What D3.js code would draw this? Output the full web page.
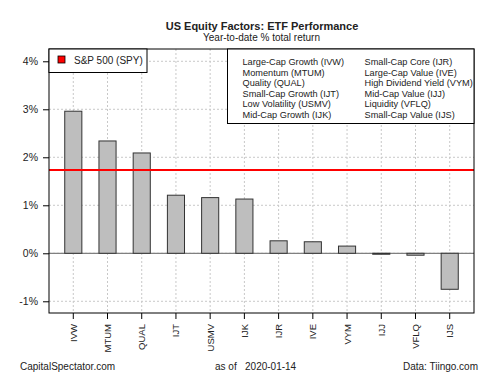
<!DOCTYPE html>
<html><head><meta charset="utf-8">
<script src="https://cdn.jsdelivr.net/npm/d3@7"></script>
<style>body{margin:0;background:#fff}svg{display:block;font-family:"Liberation Sans",Arial,sans-serif}</style>
</head><body><svg id="c" width="500" height="375"></svg>
<script>
const tickers = ["IVW","MTUM","QUAL","IJT","USMV","IJK","IJR","IVE","VYM","IJJ","VFLQ","IJS"];
const returns = [2.96,2.34,2.09,1.21,1.16,1.13,0.26,0.24,0.15,-0.02,-0.04,-0.75];
const spyReturn = 1.735;
const yTicks = [-1,0,1,2,3,4];
const legendLeft = ["Large-Cap Growth (IVW)","Momentum (MTUM)","Quality (QUAL)","Small-Cap Growth (IJT)","Low Volatility (USMV)","Mid-Cap Growth (IJK)"];
const legendRight = ["Small-Cap Core (IJR)","Large-Cap Value (IVE)","High Dividend Yield (VYM)","Mid-Cap Value (IJJ)","Liquidity (VFLQ)","Small-Cap Value (IJS)"];

const svg = d3.select("#c");
const L=49, R=474, T=49, B=313;
const n = tickers.length;
// R barplot style: space=1, width=1
const x = d3.scaleLinear().domain([0.08, 2*n+0.92]).range([L,R]);
const y = d3.scaleLinear().domain([-1.244, 4.256]).range([B,T]);
const fs = 9.5;

// grid
svg.append("g").selectAll("line").data(yTicks).join("line")
  .attr("x1",L).attr("x2",R).attr("y1",d=>y(d)).attr("y2",d=>y(d))
  .attr("stroke","#c8c8c8").attr("stroke-dasharray","2,2").attr("stroke-width",1);
svg.append("g").selectAll("line").data(tickers).join("line")
  .attr("x1",(d,i)=>x(2*i+1.5)).attr("x2",(d,i)=>x(2*i+1.5)).attr("y1",T).attr("y2",B)
  .attr("stroke","#c8c8c8").attr("stroke-dasharray","2,2").attr("stroke-width",1);

// zero line
svg.append("line").attr("x1",L).attr("x2",R).attr("y1",y(0)).attr("y2",y(0)).attr("stroke","#808080").attr("stroke-width",1.2);

// bars
svg.append("g").selectAll("rect").data(returns).join("rect")
  .attr("x",(d,i)=>x(2*i+1)).attr("width",x(2)-x(1))
  .attr("y",d=>y(Math.max(0,d))).attr("height",d=>Math.abs(y(d)-y(0)))
  .attr("fill","#bebebe").attr("stroke","#333").attr("stroke-width",1);

// SPY line
svg.append("line").attr("x1",L).attr("x2",R).attr("y1",y(spyReturn)).attr("y2",y(spyReturn)).attr("stroke","#ff0000").attr("stroke-width",2);

// frame
svg.append("rect").attr("x",L).attr("y",T).attr("width",R-L).attr("height",B-T).attr("fill","none").attr("stroke","#000").attr("stroke-width",1);

// y axis
const ya = svg.append("g").attr("transform",`translate(${L},0)`)
  .call(d3.axisLeft(y).tickValues(yTicks).tickFormat(d=>d+"%").tickSize(6).tickPadding(5));
ya.select(".domain").remove();
ya.selectAll("text").attr("font-size",fs+1).attr("fill","#222").attr("font-family","Liberation Sans, Arial");
ya.selectAll("line").attr("stroke","#000");

// x axis
const xa = svg.append("g").attr("transform",`translate(0,${B})`);
xa.selectAll("line").data(tickers).join("line")
  .attr("x1",(d,i)=>x(2*i+1.5)).attr("x2",(d,i)=>x(2*i+1.5)).attr("y1",0).attr("y2",6).attr("stroke","#000");
xa.selectAll("text").data(tickers).join("text")
  .attr("transform",(d,i)=>`translate(${x(2*i+1.5)+3.5},11) rotate(-90)`)
  .attr("text-anchor","end").attr("font-size",fs).attr("fill","#222").text(d=>d);

// legend 1
const l1 = svg.append("g");
l1.append("rect").attr("x",L).attr("y",T).attr("width",98).attr("height",23.5).attr("fill","#fff").attr("stroke","#000");
l1.append("rect").attr("x",L+9).attr("y",T+7).attr("width",7).attr("height",7).attr("fill","#ff0000").attr("stroke","#000").attr("stroke-width",0.8);
l1.append("text").attr("x",L+25).attr("y",T+14.5).attr("font-size",fs+0.5).attr("fill","#222").text("S&P 500 (SPY)");

// legend 2
const l2 = svg.append("g");
l2.append("rect").attr("x",227.5).attr("y",T).attr("width",R-227.5).attr("height",74.5).attr("fill","#fff").attr("stroke","#000");
l2.selectAll("text.a").data(legendLeft).join("text").attr("class","a")
  .attr("x",242.5).attr("y",(d,i)=>65+i*10.6).attr("font-size",9.2).attr("fill","#222").text(d=>d);
l2.selectAll("text.b").data(legendRight).join("text").attr("class","b")
  .attr("x",364.5).attr("y",(d,i)=>65+i*10.6).attr("font-size",9.2).attr("fill","#222").text(d=>d);

// titles
svg.append("text").attr("x",(L+R)/2+0.5).attr("y",29.5).attr("text-anchor","middle").attr("font-size",11).attr("font-weight","bold").attr("fill","#222").text("US Equity Factors: ETF Performance");
svg.append("text").attr("x",(L+R)/2).attr("y",40.5).attr("text-anchor","middle").attr("font-size",10).attr("fill","#222").text("Year-to-date % total return");

// footer
svg.append("text").attr("x",20).attr("y",370).attr("font-size",fs+0.5).attr("fill","#222").text("CapitalSpectator.com");
svg.append("text").attr("x",215).attr("y",370).attr("font-size",fs+0.5).attr("fill","#222").attr("xml:space","preserve").style("white-space","pre").text("as of   2020-01-14");
svg.append("text").attr("x",478).attr("y",370).attr("text-anchor","end").attr("font-size",fs+0.5).attr("fill","#222").text("Data: Tiingo.com");
</script></body></html>
